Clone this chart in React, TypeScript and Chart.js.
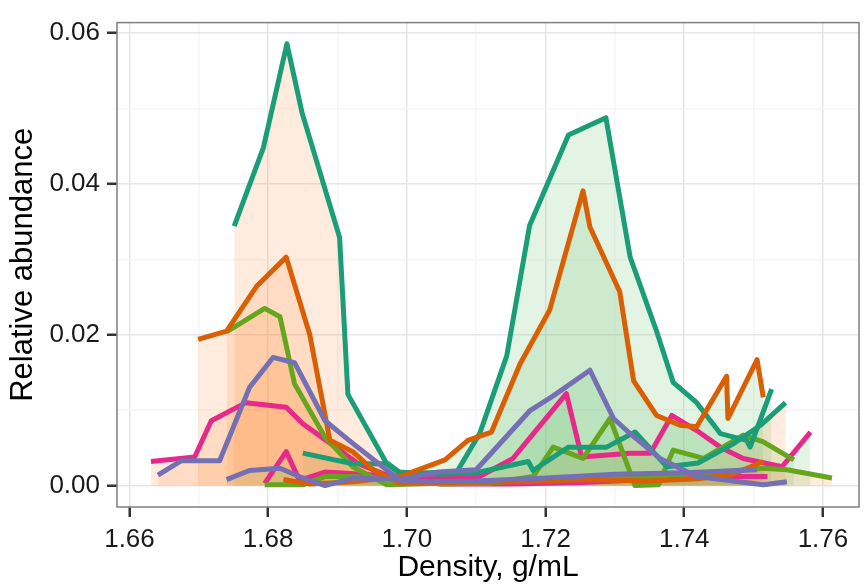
import { useEffect, useRef } from "react";
import { Chart, registerables } from "chart.js";

Chart.register(...registerables);

// ---- Data (density g/mL, relative abundance) ----
// "light" = left-peaked lines (peach fill), "heavy" = right-peaked lines (green fill)
const tealLightX = [1.6751, 1.6793, 1.6827, 1.6849, 1.6903, 1.6915, 1.6971, 1.6987, 1.7045, 1.7100, 1.7175, 1.7182, 1.7233, 1.7288, 1.7329, 1.7375, 1.7420, 1.7470, 1.7510, 1.7546];
const tealLightY = [0.0344, 0.0448, 0.0586, 0.0494, 0.0329, 0.0121, 0.0029, 0.0018, 0.0015, 0.0017, 0.0032, 0.0020, 0.0051, 0.0051, 0.0071, 0.0025, 0.0030, 0.0055, 0.0080, 0.0110];

const tealHeavyX = [1.6850, 1.6922, 1.6973, 1.6992, 1.7072, 1.7105, 1.7144, 1.7177, 1.7233, 1.7287, 1.7322, 1.7360, 1.7384, 1.7418, 1.7452, 1.7490, 1.7495, 1.7526];
const tealHeavyY = [0.0043, 0.0029, 0.0029, 0.0016, 0.0018, 0.0069, 0.0172, 0.0345, 0.0465, 0.0488, 0.0303, 0.0205, 0.0137, 0.0110, 0.0069, 0.0060, 0.0051, 0.0128];

const orangeLightX = [1.6699, 1.6740, 1.6783, 1.6826, 1.6860, 1.6889, 1.6922, 1.6951, 1.6990, 1.7050, 1.7150, 1.7250, 1.7350, 1.7420, 1.7470, 1.7514];
const orangeLightY = [0.0194, 0.0205, 0.0264, 0.0303, 0.0200, 0.0060, 0.0045, 0.0021, 0.0003, 0.0004, 0.0005, 0.0008, 0.0006, 0.0009, 0.0015, 0.0032];

const orangeHeavyX = [1.6822, 1.6860, 1.6922, 1.6990, 1.7055, 1.7088, 1.7122, 1.7163, 1.7206, 1.7254, 1.7264, 1.7307, 1.7327, 1.7360, 1.7394, 1.7418, 1.7461, 1.7463, 1.7505, 1.7514];
const orangeHeavyY = [0.0008, 0.0002, 0.0005, 0.0012, 0.0034, 0.0060, 0.0071, 0.0161, 0.0233, 0.0391, 0.0343, 0.0257, 0.0139, 0.0093, 0.0080, 0.0078, 0.0145, 0.0089, 0.0167, 0.0117];

const greenLightX = [1.6740, 1.6795, 1.6817, 1.6838, 1.6882, 1.6922, 1.6971, 1.7050, 1.7150, 1.7250, 1.7350, 1.7450, 1.7514, 1.7548, 1.7613];
const greenLightY = [0.0204, 0.0235, 0.0224, 0.0135, 0.0064, 0.0025, 0.0001, 0.0003, 0.0005, 0.0008, 0.0012, 0.0018, 0.0023, 0.0021, 0.0010];

const greenHeavyX = [1.6795, 1.6850, 1.6882, 1.6922, 1.6990, 1.7050, 1.7120, 1.7182, 1.7211, 1.7254, 1.7293, 1.7329, 1.7363, 1.7384, 1.7428, 1.7485, 1.7514, 1.7558];
const greenHeavyY = [0.0001, 0.0001, 0.0012, 0.0012, 0.0008, 0.0002, 0.0003, 0.0012, 0.0051, 0.0036, 0.0089, 0.0000, 0.0001, 0.0047, 0.0036, 0.0067, 0.0058, 0.0034];

const purpleLightX = [1.6641, 1.6675, 1.6730, 1.6773, 1.6807, 1.6838, 1.6882, 1.6922, 1.6990, 1.7030, 1.7100, 1.7200, 1.7300, 1.7400, 1.7505];
const purpleLightY = [0.0014, 0.0033, 0.0033, 0.0130, 0.0170, 0.0163, 0.0086, 0.0056, 0.0007, 0.0005, 0.0006, 0.0010, 0.0015, 0.0017, 0.0021];

const purpleHeavyX = [1.6740, 1.6773, 1.6817, 1.6845, 1.6882, 1.6922, 1.6990, 1.7046, 1.7100, 1.7177, 1.7211, 1.7264, 1.7298, 1.7322, 1.7365, 1.7418, 1.7514, 1.7548];
const purpleHeavyY = [0.0008, 0.0020, 0.0023, 0.0012, 0.0000, 0.0010, 0.0008, 0.0018, 0.0021, 0.0099, 0.0119, 0.0153, 0.0089, 0.0069, 0.0036, 0.0012, 0.0001, 0.0005];

const pinkLightX = [1.6631, 1.6694, 1.6718, 1.6768, 1.6826, 1.6850, 1.6894, 1.6930, 1.6990, 1.7050, 1.7150, 1.7250, 1.7350, 1.7450, 1.7520];
const pinkLightY = [0.0032, 0.0038, 0.0086, 0.0110, 0.0104, 0.0082, 0.0053, 0.0029, 0.0007, 0.0002, 0.0002, 0.0004, 0.0008, 0.0012, 0.0012];

const pinkHeavyX = [1.6795, 1.6826, 1.6845, 1.6882, 1.6990, 1.7053, 1.7105, 1.7153, 1.7230, 1.7252, 1.7322, 1.7351, 1.7382, 1.7418, 1.7452, 1.7485, 1.7541, 1.7582];
const pinkHeavyY = [0.0003, 0.0045, 0.0007, 0.0018, 0.0012, 0.0010, 0.0012, 0.0036, 0.0122, 0.0038, 0.0043, 0.0043, 0.0093, 0.0073, 0.0051, 0.0036, 0.0025, 0.0071];

// ---- Axes ----
const xMajorTicks = [1.66, 1.68, 1.70, 1.72, 1.74, 1.76];
const xMajorLabels = ["1.66", "1.68", "1.70", "1.72", "1.74", "1.76"];
const xMinorTicks = [1.67, 1.69, 1.71, 1.73, 1.75];
const yMajorTicks = [0, 0.02, 0.04, 0.06];
const yMajorLabels = ["0.00", "0.02", "0.04", "0.06"];
const yMinorTicks = [0.01, 0.03, 0.05];
const xRange = [1.6582, 1.7652];
const yRange = [-0.00284, 0.06141];

const TEAL = "#1B9E77";
const ORANGE = "#D95F02";
const PURPLE = "#7570B3";
const PINK = "#E7298A";
const GREEN = "#66A61E";
const LIGHT_FILL = "rgba(253,141,60,0.17)";
const HEAVY_FILL = "rgba(116,196,118,0.2)";

const toPts = (xs: number[], ys: number[]) => xs.map((x, i) => ({ x, y: ys[i] }));
const near = (a: number, b: number) => Math.abs(a - b) < 1e-9;
const majorIdx = (arr: number[], v: number) => arr.findIndex((m) => near(m, v));

const panelBorder = {
  id: "panelBorder",
  afterDraw(chart: any) {
    const { ctx, chartArea } = chart;
    const { left, top, right, bottom } = chartArea;
    ctx.save();
    ctx.strokeStyle = "#7F7F7F";
    ctx.lineWidth = 1.5;
    ctx.strokeRect(left, top, right - left, bottom - top);
    ctx.restore();
  },
};

export default function App() {
  const ref = useRef<HTMLCanvasElement | null>(null);

  useEffect(() => {
    if (!ref.current) return;
    const mk = (label: string, xs: number[], ys: number[], color: string, fillColor: string, order: number) => ({
      label,
      data: toPts(xs, ys),
      borderColor: color,
      backgroundColor: fillColor,
      fill: "origin",
      borderWidth: 5,
      pointRadius: 0,
      tension: 0,
      borderJoinStyle: "round",
      borderCapStyle: "butt",
      order,
    });
    const datasets = [
      mk("purple light", purpleLightX, purpleLightY, PURPLE, LIGHT_FILL, 1),
      mk("purple heavy", purpleHeavyX, purpleHeavyY, PURPLE, HEAVY_FILL, 2),
      mk("orange light", orangeLightX, orangeLightY, ORANGE, LIGHT_FILL, 3),
      mk("orange heavy", orangeHeavyX, orangeHeavyY, ORANGE, HEAVY_FILL, 4),
      mk("teal light", tealLightX, tealLightY, TEAL, LIGHT_FILL, 5),
      mk("teal heavy", tealHeavyX, tealHeavyY, TEAL, HEAVY_FILL, 6),
      mk("green light", greenLightX, greenLightY, GREEN, LIGHT_FILL, 7),
      mk("green heavy", greenHeavyX, greenHeavyY, GREEN, HEAVY_FILL, 8),
      mk("pink light", pinkLightX, pinkLightY, PINK, LIGHT_FILL, 9),
      mk("pink heavy", pinkHeavyX, pinkHeavyY, PINK, HEAVY_FILL, 10),
    ];

    const FONT = "'Liberation Sans', Arial, Helvetica, sans-serif";
    const chart = new Chart(ref.current, {
      type: "line",
      data: { datasets: datasets as any },
      plugins: [panelBorder],
      options: {
        responsive: false,
        animation: false,
        devicePixelRatio: 1,
        layout: { padding: { top: 18, right: 8, left: 0, bottom: 0 } },
        plugins: {
          legend: { display: false },
          tooltip: { enabled: false },
          filler: { drawTime: "beforeDatasetsDraw" },
        } as any,
        scales: {
          x: {
            type: "linear",
            min: xRange[0],
            max: xRange[1],
            afterBuildTicks: (s: any) => {
              s.ticks = [...xMajorTicks, ...xMinorTicks].sort((a, b) => a - b).map((v) => ({ value: v }));
            },
            afterFit: (s: any) => {
              s.height = 79;
            },
            ticks: {
              autoSkip: false,
              maxRotation: 0,
              padding: 7,
              color: "#1a1a1a",
              font: { family: FONT, size: 26 },
              callback: (v: any) => {
                const i = majorIdx(xMajorTicks, Number(v));
                return i >= 0 ? xMajorLabels[i] : "";
              },
            },
            grid: {
              color: (c: any) => (majorIdx(xMajorTicks, c.tick?.value) >= 0 ? "#E6E6E6" : "#F6F6F6"),
              lineWidth: 1.5,
              tickLength: 10,
              tickWidth: 2.5,
              tickColor: (c: any) => (majorIdx(xMajorTicks, c.tick?.value) >= 0 ? "#333333" : "rgba(0,0,0,0)"),
            },
            border: { display: false },
            title: {
              display: true,
              text: "Density, g/mL",
              color: "#000",
              font: { family: FONT, size: 30 },
              padding: { top: 0, bottom: 0 },
            },
          },
          y: {
            type: "linear",
            min: yRange[0],
            max: yRange[1],
            afterBuildTicks: (s: any) => {
              s.ticks = [...yMajorTicks, ...yMinorTicks].sort((a, b) => a - b).map((v) => ({ value: v }));
            },
            afterFit: (s: any) => {
              s.width = 117;
            },
            ticks: {
              autoSkip: false,
              padding: 7,
              color: "#1a1a1a",
              font: { family: FONT, size: 26 },
              callback: (v: any) => {
                const i = majorIdx(yMajorTicks, Number(v));
                return i >= 0 ? yMajorLabels[i] : "";
              },
            },
            grid: {
              color: (c: any) => (majorIdx(yMajorTicks, c.tick?.value) >= 0 ? "#E6E6E6" : "#F6F6F6"),
              lineWidth: 1.5,
              tickLength: 10,
              tickWidth: 2.5,
              tickColor: (c: any) => (majorIdx(yMajorTicks, c.tick?.value) >= 0 ? "#333333" : "rgba(0,0,0,0)"),
            },
            border: { display: false },
            title: {
              display: true,
              text: "Relative abundance",
              color: "#000",
              font: { family: FONT, size: 31 },
              padding: { top: 5, bottom: 0 },
            },
          },
        },
      } as any,
    });
    return () => chart.destroy();
  }, []);

  return (
    <div style={{ position: "fixed", left: 0, top: 0, width: 867, height: 586, background: "#fff" }}>
      <canvas ref={ref} width={867} height={586} style={{ display: "block" }} />
    </div>
  );
}
